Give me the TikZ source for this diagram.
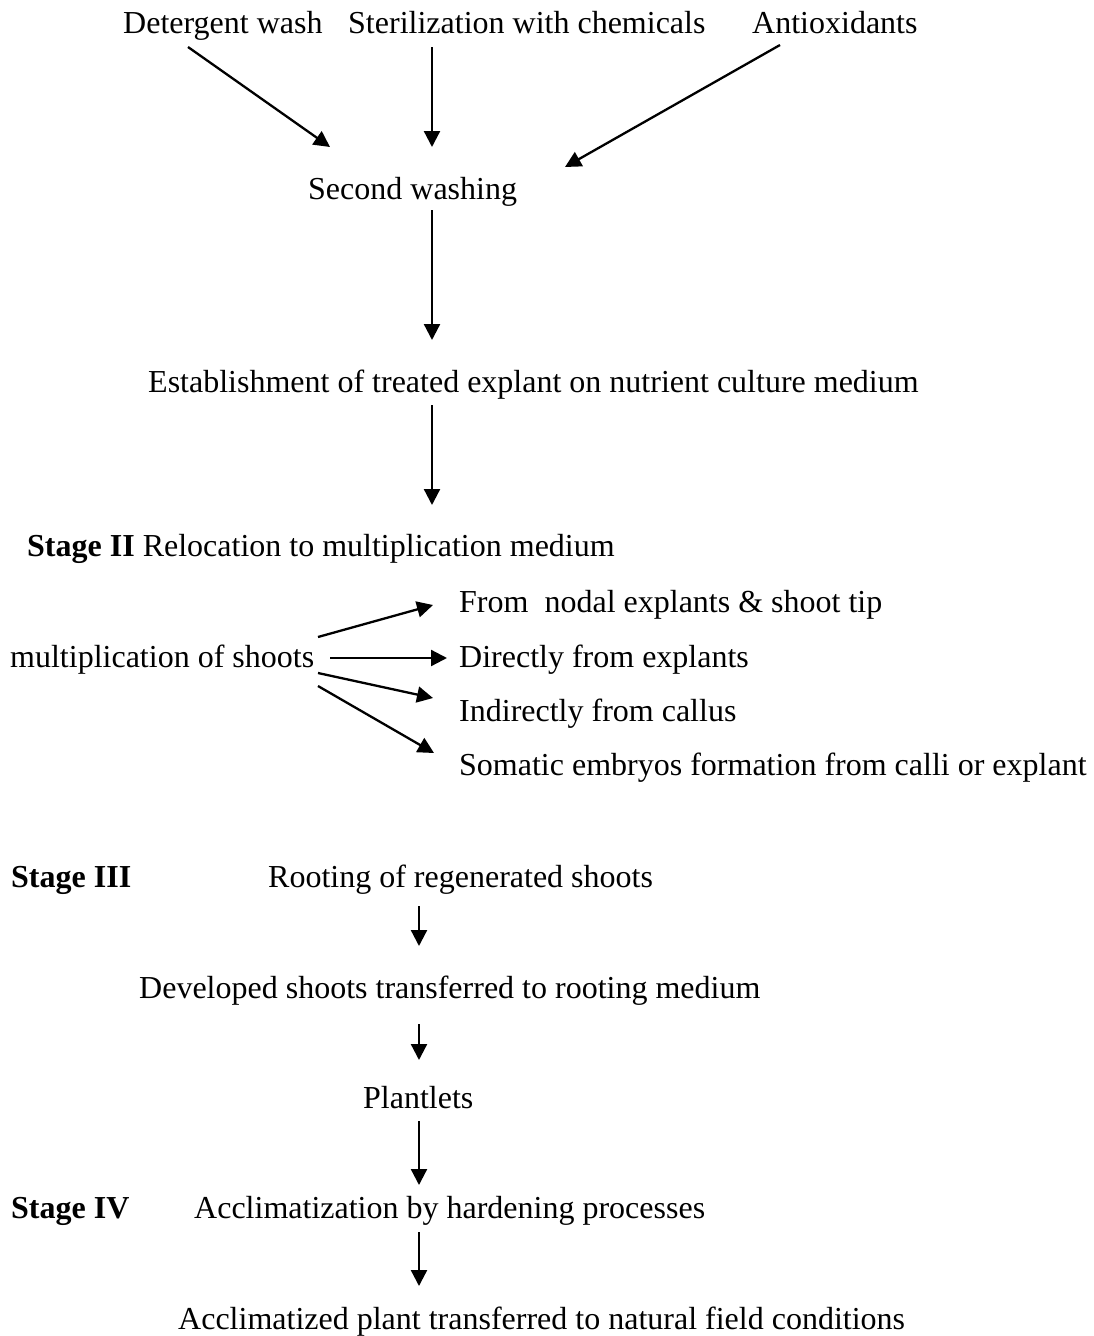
\documentclass[tikz,border=0pt]{standalone}
\usepackage{fontspec}
\setmainfont{Liberation Serif}
\usetikzlibrary{arrows.meta}
\begin{document}
\begin{tikzpicture}[x=1pt,y=-1pt,
  lbl/.style={anchor=base west,inner sep=0pt,font=\fontsize{32}{38}\selectfont,text height=22pt,text depth=7pt},
  arr/.style={line width=2.3pt,-{Triangle[length=16pt,width=16pt]}}]
\useasboundingbox[fill=white] (0,0) rectangle (1094,1336);
% top row
\node[lbl] (det) at (123,33) {Detergent wash};
\node[lbl] (ster) at (348,33) {Sterilization with chemicals};
\node[lbl] (anti) at (752,33) {Antioxidants};
\node[lbl] (sw) at (308,199) {Second washing};
\node[lbl] (est) at (148,392) {Establishment of treated explant on nutrient culture medium};
\node[lbl] (st2) at (27,556) {\textbf{Stage II} Relocation to multiplication medium};
\node[lbl] (mult) at (10,667) {multiplication of shoots};
\node[lbl] (nod) at (459,612) {From~ nodal explants \& shoot tip};
\node[lbl] (dir) at (459,667) {Directly from explants};
\node[lbl] (ind) at (459,721) {Indirectly from callus};
\node[lbl] (som) at (459,775) {Somatic embryos formation from calli or explant};
\node[lbl] (st3) at (11,887) {\textbf{Stage III}};
\node[lbl] (root) at (268,887) {Rooting of regenerated shoots};
\node[lbl] (dev) at (139,998) {Developed shoots transferred to rooting medium};
\node[lbl] (plant) at (363,1108) {Plantlets};
\node[lbl] (st4) at (11,1218) {\textbf{Stage IV}};
\node[lbl] (accl) at (194,1218) {Acclimatization by hardening processes};
\node[lbl] (fin) at (178,1329) {Acclimatized plant transferred to natural field conditions};
% arrows
\draw[arr] ([shift={(65,14)}]det.base west) -- ([shift={(22,-52)}]sw.base west);
\draw[arr] ([shift={(84,14)}]ster.base west) -- ([shift={(124,-52)}]sw.base west);
\draw[arr] ([shift={(28,12)}]anti.base west) -- ([shift={(257,-32)}]sw.base west);
\draw[arr] ([shift={(124,11)}]sw.base west) -- ([shift={(284,-52)}]est.base west);
\draw[arr] ([shift={(284,13)}]est.base west) -- ([shift={(405,-51)}]st2.base west);
\draw[arr] ([shift={(308,-30)}]mult.base west) -- ([shift={(-26,-7)}]nod.base west);
\draw[arr] ([shift={(320,-9)}]mult.base west) -- ([shift={(-12,-9)}]dir.base west);
\draw[arr] ([shift={(308,6)}]mult.base west) -- ([shift={(-26,-23)}]ind.base west);
\draw[arr] ([shift={(308,19)}]mult.base west) -- ([shift={(-25,-22)}]som.base west);
\draw[arr] ([shift={(151,19)}]root.base west) -- ([shift={(280,-52)}]dev.base west);
\draw[arr] ([shift={(280,26)}]dev.base west) -- ([shift={(56,-48)}]plant.base west);
\draw[arr] ([shift={(56,13)}]plant.base west) -- ([shift={(225,-33)}]accl.base west);
\draw[arr] ([shift={(225,14)}]accl.base west) -- ([shift={(241,-43)}]fin.base west);
\end{tikzpicture}
\end{document}
